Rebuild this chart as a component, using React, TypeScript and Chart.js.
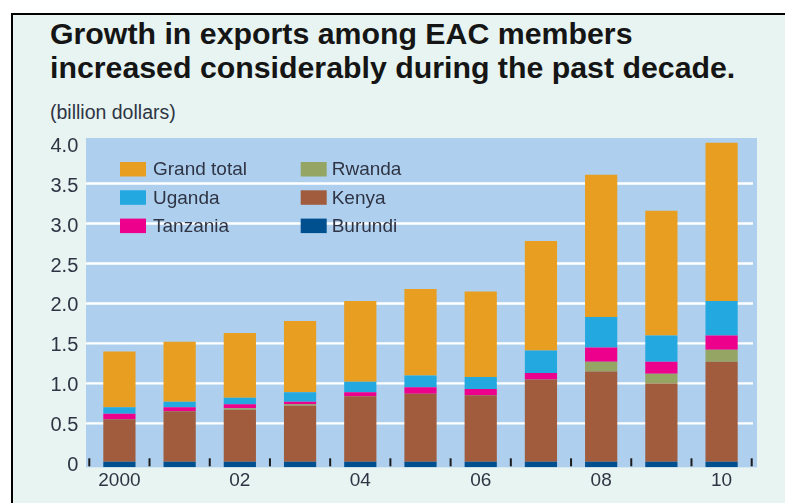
import React, { useEffect, useRef } from 'react';
import { Chart, registerables } from 'chart.js';

Chart.register(...registerables);

// ---- data (billion dollars) ----
const years = ['2000', '2001', '2002', '2003', '2004', '2005', '2006', '2007', '2008', '2009', '2010'];
const xTickLabels = ['2000', '', '02', '', '04', '', '06', '', '08', '', '10'];
const burundi = [0.02, 0.02, 0.02, 0.02, 0.02, 0.02, 0.02, 0.02, 0.02, 0.02, 0.02];
const kenya = [0.53, 0.63, 0.65, 0.70, 0.82, 0.85, 0.83, 1.03, 1.13, 0.98, 1.25];
const rwanda = [0, 0, 0.02, 0.02, 0, 0, 0, 0, 0.12, 0.12, 0.15];
const tanzania = [0.07, 0.05, 0.05, 0.03, 0.05, 0.08, 0.08, 0.08, 0.18, 0.15, 0.18];
const uganda = [0.08, 0.07, 0.08, 0.12, 0.13, 0.15, 0.15, 0.28, 0.38, 0.33, 0.43];
const grandTotal = [1.40, 1.52, 1.63, 1.78, 2.03, 2.18, 2.15, 2.78, 3.61, 3.16, 4.01];
const yTickValues = [0, 0.5, 1.0, 1.5, 2.0, 2.5, 3.0, 3.5, 4.0];
const gridValues = [0.5, 1.0, 1.5, 2.0, 2.5, 3.0, 3.5];

const FONT = '"Liberation Sans", Arial, sans-serif';
const TEXT = '#2f3444';

const COLORS = {
  burundi: '#00508f',
  kenya: '#a05c3d',
  rwanda: '#94a564',
  tanzania: '#ec008c',
  uganda: '#23a9e0',
  total: '#e89e20',
};

const decor = {
  id: 'decor',
  beforeDatasetsDraw(chart: any) {
    const { ctx, chartArea: ca, scales } = chart;
    const y = scales.y;
    ctx.save();
    ctx.fillStyle = '#aed0ee';
    ctx.fillRect(ca.left - 3.3, ca.top, ca.right - ca.left + 8.6, ca.bottom - ca.top);
    ctx.strokeStyle = '#ffffff';
    ctx.lineWidth = 2.4;
    for (const v of gridValues) {
      const py = y.getPixelForValue(v);
      ctx.beginPath();
      ctx.moveTo(ca.left - 3.3, py);
      ctx.lineTo(ca.right + 1.3, py);
      ctx.stroke();
    }
    ctx.restore();
  },
  afterDatasetsDraw(chart: any) {
    const { ctx, chartArea: ca, scales } = chart;
    const x = scales.x;
    ctx.save();
    // category boundary tick marks
    const half = (x.getPixelForValue(1) - x.getPixelForValue(0)) / 2;
    ctx.fillStyle = '#1c1c1c';
    for (let i = 0; i <= years.length; i++) {
      const px = x.getPixelForValue(i) - half;
      ctx.fillRect(px - 1, ca.bottom - 9, 2, 8);
    }
    // legend
    const order = [5, 4, 3, 2, 1, 0];
    ctx.font = `19px ${FONT}`;
    ctx.textBaseline = 'middle';
    ctx.textAlign = 'left';
    order.forEach((di, k) => {
      const ds = chart.data.datasets[di];
      const col = k < 3 ? 0 : 1;
      const row = k % 3;
      const bx = col === 0 ? 120 : 300.7;
      const by = 162 + row * 28.3;
      ctx.fillStyle = ds.backgroundColor;
      ctx.fillRect(bx, by, 26, 14.5);
      ctx.fillStyle = TEXT;
      ctx.fillText(ds.label, bx + (col === 0 ? 33 : 31), by + 8);
    });
    ctx.restore();
  },
};

export default function App() {
  const ref = useRef<HTMLCanvasElement>(null);

  useEffect(() => {
    if (!ref.current) return;
    const remainder = grandTotal.map((t, i) =>
      +(t - burundi[i] - kenya[i] - rwanda[i] - tanzania[i] - uganda[i]).toFixed(3)
    );
    const common = { barPercentage: 0.535, categoryPercentage: 1.0, borderWidth: 0 };
    const chart = new Chart(ref.current, {
      type: 'bar',
      data: {
        labels: years,
        datasets: [
          { label: 'Burundi', data: burundi, backgroundColor: COLORS.burundi, base: -0.05, ...common },
          { label: 'Kenya', data: kenya, backgroundColor: COLORS.kenya, ...common },
          { label: 'Rwanda', data: rwanda, backgroundColor: COLORS.rwanda, ...common },
          { label: 'Tanzania', data: tanzania, backgroundColor: COLORS.tanzania, ...common },
          { label: 'Uganda', data: uganda, backgroundColor: COLORS.uganda, ...common },
          { label: 'Grand total', data: remainder, backgroundColor: COLORS.total, ...common },
        ] as any,
      },
      options: {
        responsive: false,
        animation: false,
        events: [],
        layout: { padding: { left: 0, right: 33.3, top: 138, bottom: 5.7 } },
        plugins: { legend: { display: false }, tooltip: { enabled: false } },
        scales: {
          x: {
            stacked: true,
            grid: { display: false, drawTicks: false },
            border: { display: false },
            ticks: {
              autoSkip: false,
              maxRotation: 0,
              padding: 2,
              color: TEXT,
              font: { family: FONT, size: 19 },
              callback: (_v: any, i: number) => xTickLabels[i],
            },
            afterFit: (s: any) => {
              s.height = 30;
            },
          },
          y: {
            stacked: true,
            min: -0.05,
            max: 4.07,
            grid: { display: false, drawTicks: false },
            border: { display: false },
            afterBuildTicks: (s: any) => {
              s.ticks = yTickValues.map((v) => ({ value: v }));
            },
            ticks: {
              padding: 11,
              labelOffset: 2.5,
              color: TEXT,
              font: { family: FONT, size: 20 },
              callback: (v: any) => (Number(v) === 0 ? '0' : Number(v).toFixed(1)),
            },
            afterFit: (s: any) => {
              s.width = 89.3;
            },
          },
        },
      } as any,
      plugins: [decor],
    });
    return () => chart.destroy();
  }, []);

  return (
    <div style={{ position: 'absolute', left: 0, top: 0, width: 785, height: 503, overflow: 'hidden', background: '#ffffff' }}>
      <div
        style={{
          position: 'absolute',
          left: 11,
          top: 13,
          width: 800,
          height: 520,
          borderTop: '2px solid #000',
          borderLeft: '2px solid #000',
          background: '#e7f4f1',
        }}
      />
      <div
        style={{
          position: 'absolute',
          left: 50,
          top: 16.5,
          fontFamily: FONT,
          fontWeight: 'bold',
          fontSize: 30.3,
          lineHeight: '34px',
          color: '#151515',
          whiteSpace: 'nowrap',
        }}
      >
        Growth in exports among EAC members
        <br />
        increased considerably during the past decade.
      </div>
      <div
        style={{
          position: 'absolute',
          left: 50,
          top: 103,
          fontFamily: FONT,
          fontSize: 19.5,
          lineHeight: '19px',
          color: TEXT,
          whiteSpace: 'nowrap',
        }}
      >
        (billion dollars)
      </div>
      <canvas ref={ref} width={785} height={503} style={{ position: 'absolute', left: 0, top: 0, display: 'block' }} />
    </div>
  );
}
